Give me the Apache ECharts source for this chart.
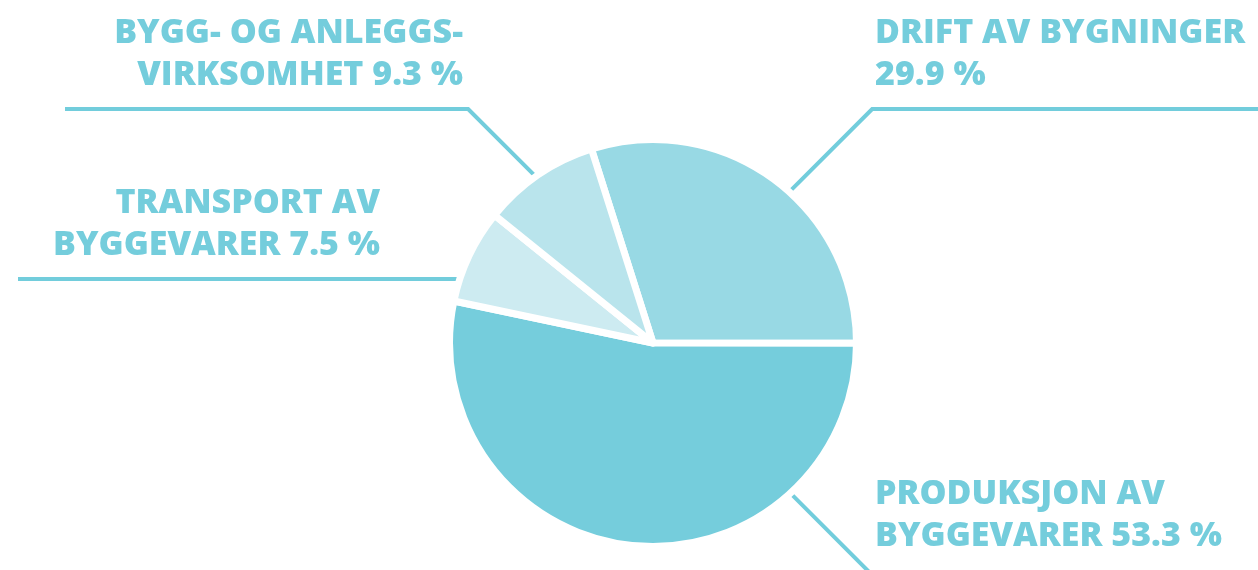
<!DOCTYPE html>
<html>
<head>
<meta charset="utf-8">
<script src="https://cdn.jsdelivr.net/npm/echarts@6/dist/echarts.min.js"></script>
<style>
  html, body { margin: 0; padding: 0; background: #ffffff; }
  #chart { width: 1258px; height: 570px; }
</style>
</head>
<body>
<div id="chart"></div>
<script>
// Shares of emissions by building life-cycle phase (per cent)
const categories = [
  'DRIFT AV BYGNINGER\n',
  'PRODUKSJON AV\nBYGGEVARER',
  'TRANSPORT AV\nBYGGEVARER',
  'BYGG- OG ANLEGGS-\nVIRKSOMHET'
];
const values = [29.9, 53.3, 7.5, 9.3];
const sliceColors = ['#98d9e4', '#75cddc', '#cdebf1', '#b9e4ec'];

const TEXT_COLOR = '#74cddc';
const LINE_COLOR = '#72cddc';
const CX = 653, CY = 343, R = 200, GAP = 7;

// Leader-line layout per slice: angle where the line leaves the pie,
// diagonal direction, y of the horizontal run, its far x, label anchor.
const guides = [
  { angle: 48, dx: 1, dy: -1, lineY: 109, endX: 1262, textX: 875, align: 'left' },
  { angle: -47.6, dx: 1, dy: 1, lineY: null, endX: null, textX: 875, textY: 557, align: 'left' },
  { angle: 161, dx: -1, dy: 0, lineY: 279, endX: 18, textX: 380, align: 'right' },
  { angle: 125, dx: -1, dy: -1, lineY: 109, endX: 65, textX: 463, align: 'right' }
];

function labelText(p) {
  const v = p.value.toFixed(1) + ' %';
  return p.name.endsWith('\n') ? p.name + v : p.name + ' ' + v;
}

const chart = echarts.init(document.getElementById('chart'), null, { renderer: 'canvas' });

chart.setOption({
  backgroundColor: '#ffffff',
  animation: false,
  series: [{
    type: 'pie',
    center: [CX, CY],
    radius: [0, R + GAP / 2],
    startAngle: 107.6,
    clockwise: true,
    avoidLabelOverlap: false,
    silent: true,
    itemStyle: { borderColor: '#ffffff', borderWidth: GAP },
    label: {
      show: true,
      position: 'outside',
      color: TEXT_COLOR,
      fontFamily: '"Open Sans"',
      fontWeight: 800,
      fontSize: 34,
      lineHeight: 42,
      formatter: labelText
    },
    labelLine: {
      show: true,
      lineStyle: { color: LINE_COLOR, width: 4 }
    },
    labelLayout: function (params) {
      const g = guides[params.dataIndex];
      const a = g.angle * Math.PI / 180;
      const p0 = [CX + R * Math.cos(a), CY - R * Math.sin(a)];
      let p1, p2, textY;
      if (g.lineY === null) {
        // diagonal running off the bottom edge
        p1 = [p0[0] + 40 * g.dx, p0[1] + 40 * g.dy];
        p2 = [p0[0] + 120 * g.dx, p0[1] + 120 * g.dy];
        textY = g.textY;
      } else if (g.dy === 0) {
        p1 = [p0[0], g.lineY];
        p2 = [g.endX, g.lineY];
        p0[1] = g.lineY;
        textY = g.lineY - 13;
      } else {
        const t = Math.abs(g.lineY - p0[1]);
        p1 = [p0[0] + t * g.dx, g.lineY];
        p2 = [g.endX, g.lineY];
        textY = g.lineY - 13;
      }
      return {
        x: g.textX,
        y: textY,
        align: g.align,
        verticalAlign: 'bottom',
        labelLinePoints: [p0, p1, p2]
      };
    },
    data: categories.map((name, i) => ({
      name: name,
      value: values[i],
      itemStyle: { color: sliceColors[i] }
    }))
  }]
});
</script>
</body>
</html>
